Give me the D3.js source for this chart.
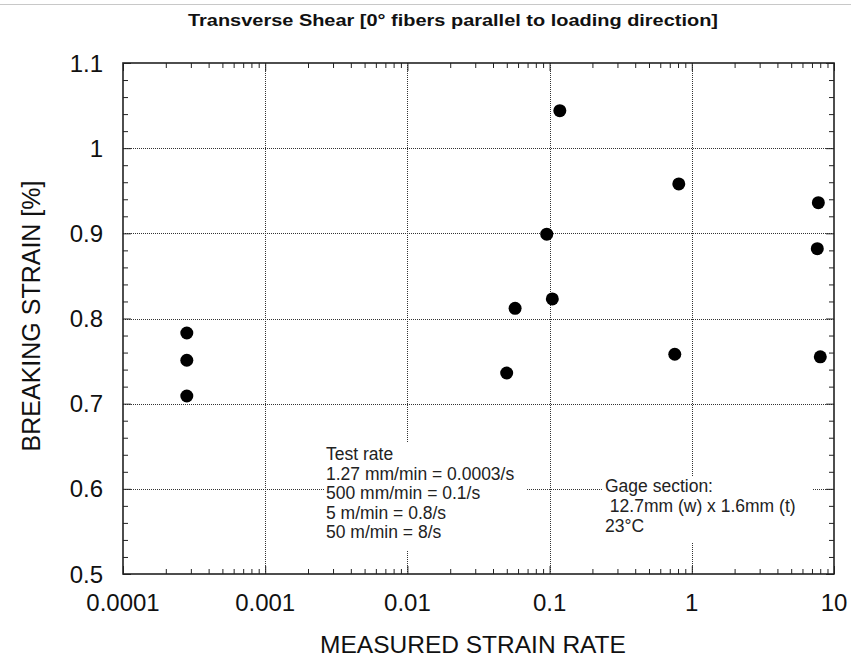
<!DOCTYPE html>
<html>
<head>
<meta charset="utf-8">
<script src="https://cdn.jsdelivr.net/npm/d3@7"></script>
<style>
  html, body { margin: 0; padding: 0; background: #fff; }
  svg { display: block; font-family: "Liberation Sans", Arial, sans-serif; }
</style>
</head>
<body>
<svg id="chart" width="851" height="660"></svg>
<script>
// ---- data ----
const strainRate = [0.000281, 0.000281, 0.000281, 0.0499, 0.0572, 0.0955, 0.1045, 0.118, 0.759, 0.81, 7.63, 7.76, 8.01];
const breakingStrain = [0.783, 0.751, 0.709, 0.736, 0.812, 0.899, 0.823, 1.044, 0.758, 0.958, 0.882, 0.936, 0.755];
const xTickValues = [0.0001, 0.001, 0.01, 0.1, 1, 10];
const xTickLabels = ["0.0001", "0.001", "0.01", "0.1", "1", "10"];
const yTickValues = [0.5, 0.6, 0.7, 0.8, 0.9, 1.0, 1.1];
const yTickLabels = ["0.5", "0.6", "0.7", "0.8", "0.9", "1", "1.1"];
const titleText = "Transverse Shear [0\u00B0 fibers parallel to loading direction]";
const xTitle = "MEASURED STRAIN RATE";
const yTitle = "BREAKING STRAIN [%]";
const noteRate = ["Test rate", "1.27 mm/min = 0.0003/s", "500 mm/min = 0.1/s", "5 m/min = 0.8/s", "50 m/min = 8/s"];
const noteGage = ["Gage section:", " 12.7mm (w) x 1.6mm (t)", "23\u00B0C"];

// ---- layout ----
const L = 123, R = 834, T = 63, B = 574;
const svg = d3.select("#chart");
const x = d3.scaleLog().domain([0.0001, 10]).range([L, R]);
const y = d3.scaleLinear().domain([0.5, 1.1]).range([B, T]);

// top gray line
svg.append("line").attr("x1", 0).attr("x2", 851).attr("y1", 4.5).attr("y2", 4.5)
  .attr("stroke", "#c8c8c8").attr("stroke-width", 1);

// title
svg.append("text").attr("x", 453).attr("y", 26).attr("text-anchor", "middle")
  .attr("font-weight", "bold").attr("font-size", 17).attr("fill", "#111")
  .attr("textLength", 530).attr("lengthAdjust", "spacingAndGlyphs")
  .text(titleText);

// grid lines (dotted)
const grid = svg.append("g").attr("stroke", "#333").attr("stroke-width", 1).attr("stroke-dasharray", "1,1");
grid.selectAll(".gx").data(xTickValues.slice(1, -1)).enter().append("line")
  .attr("x1", d => Math.round(x(d)) + 0.5).attr("x2", d => Math.round(x(d)) + 0.5)
  .attr("y1", T).attr("y2", B);
grid.selectAll(".gy").data(yTickValues.slice(1, -1)).enter().append("line")
  .attr("y1", d => Math.round(y(d)) + 0.5).attr("y2", d => Math.round(y(d)) + 0.5)
  .attr("x1", L).attr("x2", R);

// annotation boxes (white background hides grid)
function note(lines, x0, baseline0, step, box) {
  const g = svg.append("g");
  g.append("rect").attr("x", box[0]).attr("y", box[1]).attr("width", box[2]).attr("height", box[3]).attr("fill", "#fff");
  g.selectAll("text").data(lines).enter().append("text")
    .attr("x", x0).attr("y", (d, i) => baseline0 + i * step)
    .attr("font-size", 17.5).attr("fill", "#222")
    .attr("xml:space", "preserve").style("white-space", "pre")
    .text(d => d);
}
note(noteRate, 326, 460, 19.6, [324, 443, 203, 107]);
note(noteGage, 605, 492, 20, [603, 476, 209, 67]);

// axes with minor ticks on all four sides
const minorX = [];
for (let e = -4; e < 1; e++) for (let m = 2; m <= 9; m++) minorX.push(m * Math.pow(10, e));
const minorY = d3.range(0.52, 1.1, 0.02).filter(v => Math.abs(Math.round(v * 10) - v * 10) > 1e-6);

const ax = svg.append("g");
ax.append("g").attr("transform", `translate(0,${B})`)
  .call(d3.axisBottom(x).tickValues(minorX).tickSizeInner(-5).tickSizeOuter(0).tickFormat(""));
ax.append("g").attr("transform", `translate(0,${T})`)
  .call(d3.axisTop(x).tickValues(minorX).tickSizeInner(-5).tickSizeOuter(0).tickFormat(""));
ax.append("g").attr("transform", `translate(0,${B})`)
  .call(d3.axisBottom(x).tickValues(xTickValues).tickSizeInner(-8).tickSizeOuter(0).tickFormat(""));
ax.append("g").attr("transform", `translate(0,${T})`)
  .call(d3.axisTop(x).tickValues(xTickValues).tickSizeInner(-8).tickSizeOuter(0).tickFormat(""));
ax.append("g").attr("transform", `translate(${L},0)`)
  .call(d3.axisLeft(y).tickValues(minorY).tickSizeInner(-5).tickSizeOuter(0).tickFormat(""));
ax.append("g").attr("transform", `translate(${R},0)`)
  .call(d3.axisRight(y).tickValues(minorY).tickSizeInner(-5).tickSizeOuter(0).tickFormat(""));
ax.append("g").attr("transform", `translate(${L},0)`)
  .call(d3.axisLeft(y).tickValues(yTickValues).tickSizeInner(-8).tickSizeOuter(0).tickFormat(""));
ax.append("g").attr("transform", `translate(${R},0)`)
  .call(d3.axisRight(y).tickValues(yTickValues).tickSizeInner(-8).tickSizeOuter(0).tickFormat(""));
ax.selectAll(".domain").remove();
ax.selectAll(".tick line").attr("stroke", "#222").attr("stroke-width", 1);

// frame
svg.append("rect").attr("x", L).attr("y", T).attr("width", R - L).attr("height", B - T)
  .attr("fill", "none").attr("stroke", "#222").attr("stroke-width", 1.6);

// tick labels
svg.append("g").selectAll("text").data(xTickValues).enter().append("text")
  .attr("x", d => x(d)).attr("y", 611).attr("text-anchor", "middle")
  .attr("font-size", 24).attr("fill", "#111")
  .text((d, i) => xTickLabels[i]);
svg.append("g").selectAll("text").data(yTickValues).enter().append("text")
  .attr("x", 103).attr("y", d => y(d) + 8.5).attr("text-anchor", "end")
  .attr("font-size", 24).attr("fill", "#111")
  .text((d, i) => yTickLabels[i]);

// axis titles
svg.append("text").attr("x", 473).attr("y", 653).attr("text-anchor", "middle")
  .attr("font-size", 24.5).attr("fill", "#111").text(xTitle);
svg.append("text").attr("transform", "translate(40,316) rotate(-90)").attr("text-anchor", "middle")
  .attr("font-size", 25).attr("fill", "#111").text(yTitle);

// points
svg.append("g").selectAll("circle").data(strainRate).enter().append("circle")
  .attr("cx", d => x(d)).attr("cy", (d, i) => y(breakingStrain[i]))
  .attr("r", 6.5).attr("fill", "#000");
</script>
</body>
</html>
